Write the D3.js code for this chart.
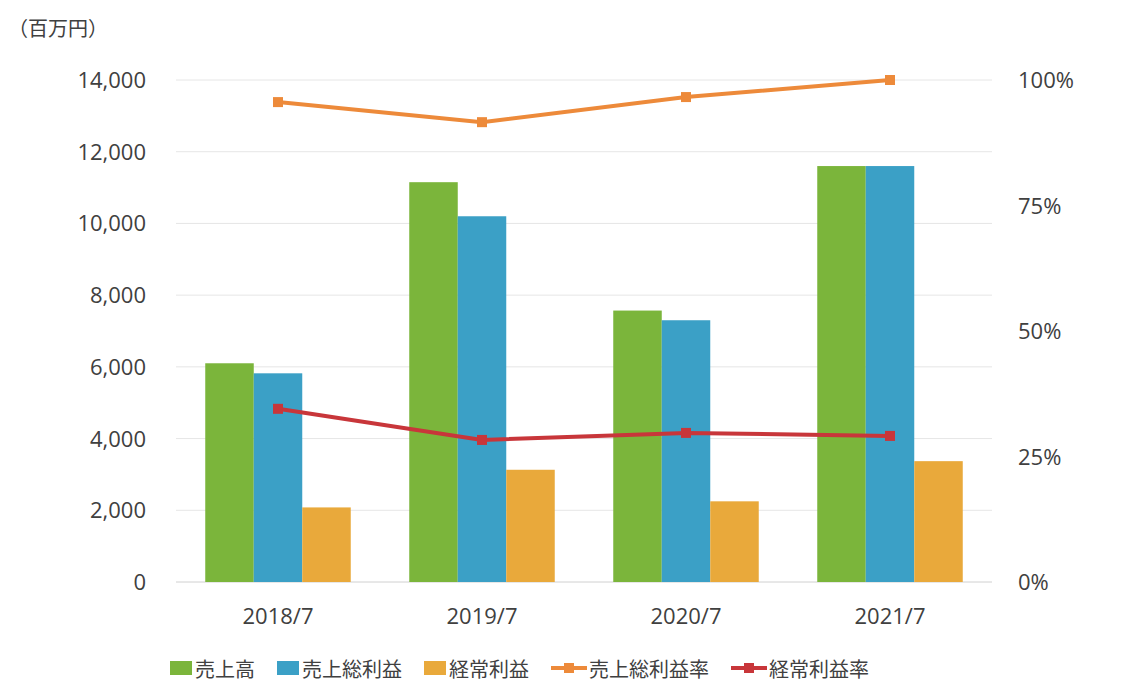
<!DOCTYPE html>
<html><head><meta charset="utf-8">
<script src="https://cdn.jsdelivr.net/npm/d3@7"></script>
<style>body{margin:0;background:#fff}text{font-family:"Open Sans","Noto Sans CJK JP",sans-serif;fill:#404040}</style>
</head><body>
<svg id="c" width="1134" height="699"></svg>
<script>
const years = ["2018/7", "2019/7", "2020/7", "2021/7"];
const sales = [6100, 11150, 7570, 11600];
const grossProfit = [5820, 10200, 7300, 11600];
const ordinaryProfit = [2080, 3130, 2250, 3370];
const grossRate = [0.956, 0.916, 0.966, 1.0];
const ordinaryRate = [0.345, 0.283, 0.297, 0.291];
const leftTicks = [0, 2000, 4000, 6000, 8000, 10000, 12000, 14000];
const rightTicks = [0, 0.25, 0.5, 0.75, 1.0];

const svg = d3.select("#c");
const L = 176, R = 992, T = 80, B = 582;
const x = d3.scaleBand().domain(years).range([L, R]);
const y = d3.scaleLinear().domain([0, 14000]).range([B, T]);
const y2 = d3.scaleLinear().domain([0, 1]).range([B, T]);

// grid
svg.append("g").selectAll("line").data(leftTicks).join("line")
  .attr("x1", L).attr("x2", R).attr("y1", d => y(d)).attr("y2", d => y(d))
  .attr("stroke", d => d == 0 ? "#d0d0d0" : "#e6e6e6").attr("stroke-width", 1);

// left axis labels
svg.append("g").selectAll("text").data(leftTicks).join("text")
  .attr("x", 146).attr("y", d => y(d) + 8).attr("text-anchor", "end")
  .style("font-size", "22px").text(d => d3.format(",")(d));
svg.append("text").attr("x", 8).attr("y", 36).style("font-size", "20px").text("（百万円）");
// right axis labels
svg.append("g").selectAll("text").data(rightTicks).join("text")
  .attr("x", 1018).attr("y", d => y2(d) + 8)
  .style("font-size", "22px").text(d => d3.format(".0%")(d));
// x labels
svg.append("g").selectAll("text").data(years).join("text")
  .attr("x", d => x(d) + x.bandwidth() / 2).attr("y", 624).attr("text-anchor", "middle")
  .style("font-size", "22px").text(d => d);

const series = [
  {name: "売上高", vals: sales, color: "#7bb53b"},
  {name: "売上総利益", vals: grossProfit, color: "#3ba0c6"},
  {name: "経常利益", vals: ordinaryProfit, color: "#e9a93b"}
];
const bw = 48.5;
series.forEach((s, i) => {
  svg.append("g").selectAll("rect").data(years).join("rect")
    .attr("x", d => x(d) + x.bandwidth() / 2 - 1.5 * bw + i * bw)
    .attr("width", bw)
    .attr("y", (d, j) => y(s.vals[j]))
    .attr("height", (d, j) => B - y(s.vals[j]))
    .attr("fill", s.color);
});

const lines = [
  {name: "売上総利益率", vals: grossRate, color: "#ed8a3a"},
  {name: "経常利益率", vals: ordinaryRate, color: "#c8363a"}
];
const cx = d => x(d) + x.bandwidth() / 2;
lines.forEach(s => {
  const line = d3.line().x((d, j) => cx(years[j])).y(d => y2(d));
  svg.append("path").datum(s.vals).attr("d", line)
    .attr("fill", "none").attr("stroke", s.color).attr("stroke-width", 4);
  svg.append("g").selectAll("rect").data(s.vals).join("rect")
    .attr("x", (d, j) => cx(years[j]) - 5).attr("y", d => y2(d) - 5)
    .attr("width", 10).attr("height", 10).attr("fill", s.color);
});

// legend
const lg = svg.append("g");
let lx = 170;
series.forEach(s => {
  lg.append("rect").attr("x", lx).attr("y", 661).attr("width", 22).attr("height", 14).attr("fill", s.color);
  const t = lg.append("text").attr("x", lx + 25).attr("y", 677).style("font-size", "20px").text(s.name);
  lx += 25 + t.node().getComputedTextLength() + 22;
});
lines.forEach(s => {
  lg.append("line").attr("x1", lx).attr("x2", lx + 36).attr("y1", 668).attr("y2", 668)
    .attr("stroke", s.color).attr("stroke-width", 4);
  lg.append("rect").attr("x", lx + 13).attr("y", 663).attr("width", 10).attr("height", 10).attr("fill", s.color);
  const t = lg.append("text").attr("x", lx + 38).attr("y", 677).style("font-size", "20px").text(s.name);
  lx += 38 + t.node().getComputedTextLength() + 22;
});
</script>
</body></html>
